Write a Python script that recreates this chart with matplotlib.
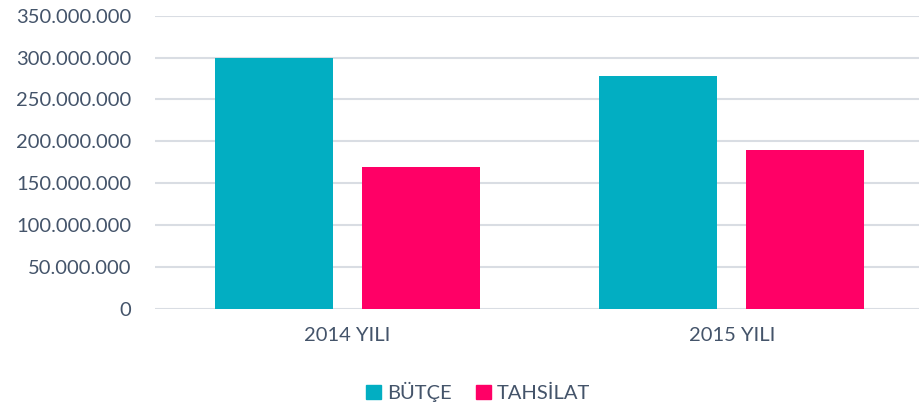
import matplotlib
matplotlib.use("Agg")
import matplotlib.pyplot as plt
import numpy as np
from matplotlib.ticker import FuncFormatter
from matplotlib.patches import Patch

categories = ["2014 YILI", "2015 YILI"]
series_names = ["BÜTÇE", "TAHSİLAT"]
butce = [300_000_000, 278_000_000]
tahsilat = [169_000_000, 190_000_000]
colors = ["#02AEC2", "#FF0066"]
text_color = "#44546A"

plt.rcParams['font.family'] = ['Lato', 'DejaVu Sans']

fig = plt.figure(figsize=(9.19, 4.11), dpi=100)
ax = fig.add_axes([155/919, (411-308.7)/411, 769/919, (308.7-15.7)/411])

x = np.arange(len(categories))
w = 0.307
off = 0.191
ax.bar(x - off, butce, width=w, color=colors[0], zorder=3)
ax.bar(x + off, tahsilat, width=w, color=colors[1], zorder=3)

ax.set_xlim(-0.5, 1.5)
ax.set_ylim(0, 350_000_000)
ax.set_yticks(np.arange(0, 350_000_001, 50_000_000))
ax.yaxis.set_major_formatter(FuncFormatter(lambda v, p: f"{int(v):,}".replace(",", ".")))
ax.set_xticks(x)
ax.set_xticklabels(categories)
ax.grid(axis='y', color='#D9DDE3', linewidth=1.5, zorder=0)
for s in ax.spines.values():
    s.set_visible(False)
ax.tick_params(axis='both', length=0, labelsize=14.5, colors=text_color)
ax.tick_params(axis='y', pad=17)
ax.tick_params(axis='x', pad=13)

handles = [Patch(color=c, label=n) for c, n in zip(colors, series_names)]
fig.legend(handles=handles, loc='center', bbox_to_anchor=(478/919, 1-392/411), ncol=2,
           frameon=False, fontsize=14.5, handlelength=0.75, handleheight=0.75,
           handletextpad=0.3, columnspacing=1.2, labelcolor=text_color)

fig.savefig("out.png", dpi=100)
